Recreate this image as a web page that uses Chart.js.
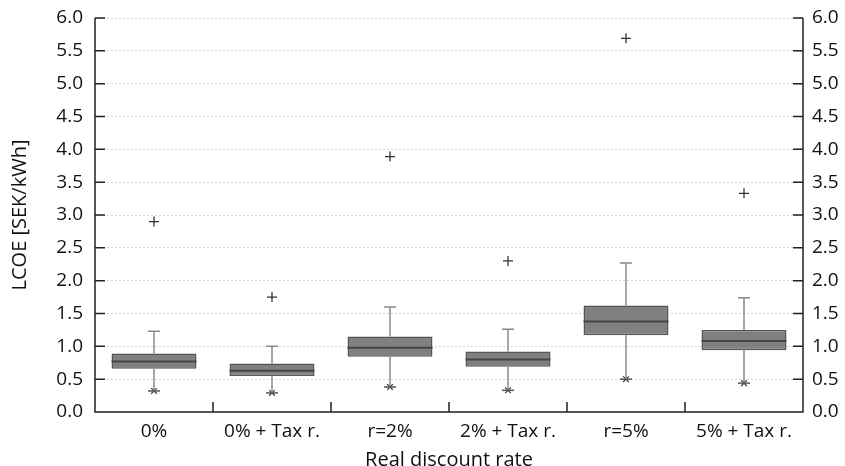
<!DOCTYPE html>
<html>
<head>
<meta charset="utf-8">
<script src="https://cdn.jsdelivr.net/npm/chart.js@4/dist/chart.umd.min.js"></script>
<style>
  html, body { margin: 0; padding: 0; background: #fff; }
  #wrap { width: 845px; height: 466px; }
</style>
</head>
<body>
<div id="wrap"><canvas id="lcoeChart" width="845" height="466"></canvas></div>
<script>
// Box plot values (SEK/kWh)
var categories = ['0%', '0% + Tax r.', 'r=2%', '2% + Tax r.', 'r=5%', '5% + Tax r.'];
var q1Values      = [0.66, 0.55, 0.84, 0.69, 1.17, 0.94];
var q3Values      = [0.89, 0.74, 1.15, 0.92, 1.62, 1.25];
var medianValues  = [0.77, 0.63, 0.98, 0.80, 1.38, 1.08];
var upperWhisker  = [1.23, 1.00, 1.60, 1.26, 2.27, 1.74];
var lowerWhisker  = [0.32, 0.29, 0.38, 0.33, 0.50, 0.44];
var outlierValues = [2.90, 1.75, 3.89, 2.30, 5.69, 3.33];
var yTicks = [0, 0.5, 1, 1.5, 2, 2.5, 3, 3.5, 4, 4.5, 5, 5.5, 6];

var fontFamily = '"Open Sans", "DejaVu Sans", sans-serif';

// Whiskers, medians and inward tick marks
var boxPlotPlugin = {
    id: 'boxPlot',
    afterDatasetsDraw: function(chart) {
        var ctx = chart.ctx;
        var x = chart.scales.x;
        var y = chart.scales.y;
        var meta = chart.getDatasetMeta(0);
        ctx.save();
        for (var i = 0; i < categories.length; i++) {
            var cx = x.getPixelForValue(i);
            var half = meta.data[i].width / 2;
            var cap = 6;
            // whiskers
            ctx.strokeStyle = '#8a8a8a';
            ctx.lineWidth = 1.5;
            ctx.beginPath();
            ctx.moveTo(cx, y.getPixelForValue(q3Values[i]));
            ctx.lineTo(cx, y.getPixelForValue(upperWhisker[i]));
            ctx.moveTo(cx, y.getPixelForValue(q1Values[i]));
            ctx.lineTo(cx, y.getPixelForValue(lowerWhisker[i]));
            ctx.moveTo(cx - cap, y.getPixelForValue(upperWhisker[i]));
            ctx.lineTo(cx + cap, y.getPixelForValue(upperWhisker[i]));
            ctx.stroke();
            ctx.strokeStyle = '#555';
            ctx.beginPath();
            ctx.moveTo(cx - cap, y.getPixelForValue(lowerWhisker[i]));
            ctx.lineTo(cx + cap, y.getPixelForValue(lowerWhisker[i]));
            ctx.stroke();
            // median
            ctx.strokeStyle = '#444';
            ctx.lineWidth = 2;
            ctx.beginPath();
            ctx.moveTo(cx - half, y.getPixelForValue(medianValues[i]));
            ctx.lineTo(cx + half, y.getPixelForValue(medianValues[i]));
            ctx.stroke();
        }
        ctx.restore();
    },
    afterDraw: function(chart) {
        var ctx = chart.ctx;
        var area = chart.chartArea;
        var x = chart.scales.x;
        var y = chart.scales.y;
        var tick = 10;
        ctx.save();
        ctx.strokeStyle = '#222';
        ctx.lineWidth = 1.5;
        ctx.beginPath();
        // axis lines
        ctx.moveTo(area.left, area.top);
        ctx.lineTo(area.left, area.bottom);
        ctx.lineTo(area.right, area.bottom);
        ctx.lineTo(area.right, area.top);
        // inward y ticks on both sides
        yTicks.forEach(function(v) {
            var py = y.getPixelForValue(v);
            ctx.moveTo(area.left, py);
            ctx.lineTo(area.left + tick, py);
            ctx.moveTo(area.right, py);
            ctx.lineTo(area.right - tick, py);
        });
        // category separators on x axis
        for (var i = 0; i < categories.length - 1; i++) {
            var px = (x.getPixelForValue(i) + x.getPixelForValue(i + 1)) / 2;
            ctx.moveTo(px, area.bottom);
            ctx.lineTo(px, area.bottom - tick);
        }
        ctx.stroke();
        ctx.restore();
    }
};

function fitY(width) {
    return function(s) {
        s.width = width;
        s.paddingTop = 0;
        s.paddingBottom = 0;
    };
}

var data = {
    labels: categories,
    datasets: [
        {
            type: 'bar',
            data: q1Values.map(function(q, i) { return [q, q3Values[i]]; }),
            backgroundColor: '#808080',
            borderColor: '#555',
            borderWidth: 1.5,
            borderSkipped: false,
            barPercentage: 0.72,
            categoryPercentage: 1.0,
            order: 2
        },
        {
            type: 'line',
            data: outlierValues,
            showLine: false,
            pointStyle: 'cross',
            pointRadius: 5,
            pointBorderWidth: 1.3,
            borderColor: '#333',
            order: 1
        },
        {
            type: 'line',
            data: lowerWhisker,
            showLine: false,
            pointStyle: 'crossRot',
            pointRadius: 4,
            pointBorderWidth: 1.3,
            borderColor: '#444',
            order: 1
        }
    ]
};

var config = {
    type: 'bar',
    data: data,
    options: {
        responsive: false,
        animation: false,
        layout: { padding: { top: 18, left: 0, right: 0, bottom: 0 } },
        plugins: { legend: { display: false }, tooltip: { enabled: false } },
        scales: {
            x: {
                offset: true,
                grid: { display: false },
                border: { display: false },
                ticks: { color: '#111', font: { family: fontFamily, size: 19 }, padding: 0, maxRotation: 0 },
                title: { display: true, text: 'Real discount rate', color: '#111', font: { family: fontFamily, size: 20 }, padding: { top: 0, bottom: -6 } },
                afterFit: function(s) { s.height = 54; }
            },
            y: {
                position: 'left',
                min: 0, max: 6,
                afterBuildTicks: function(s) { s.ticks = yTicks.map(function(v) { return { value: v }; }); },
                grid: { color: '#d6d6d6', lineWidth: 1, drawTicks: false },
                border: { display: false, dash: [2, 2] },
                ticks: { color: '#111', font: { family: fontFamily, size: 19 }, padding: 12,
                         callback: function(v) { return v.toFixed(1); } },
                title: { display: true, text: 'LCOE [SEK/kWh]', color: '#111', font: { family: fontFamily, size: 20 }, padding: 8 },
                afterFit: fitY(95)
            },
            y1: {
                position: 'right',
                min: 0, max: 6,
                afterBuildTicks: function(s) { s.ticks = yTicks.map(function(v) { return { value: v }; }); },
                grid: { display: false, drawTicks: false },
                border: { display: false },
                ticks: { color: '#111', font: { family: fontFamily, size: 19 }, padding: 9,
                         callback: function(v) { return v.toFixed(1); } },
                afterFit: fitY(42)
            }
        }
    },
    plugins: [boxPlotPlugin]
};

new Chart(document.getElementById('lcoeChart').getContext('2d'), config);
</script>
</body>
</html>
